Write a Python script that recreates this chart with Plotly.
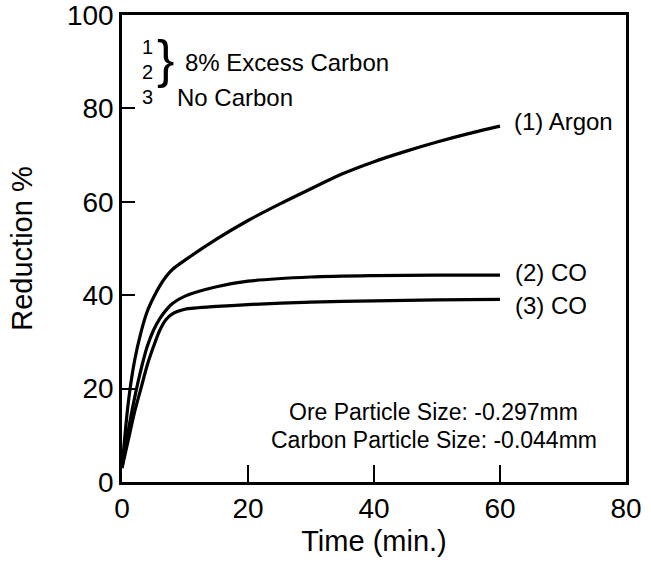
import plotly.graph_objects as go

# Reduction curves (time in minutes, reduction in %)
time_argon = [0, 1, 2, 3, 4, 5, 6, 7, 8, 10, 15, 20, 25, 30, 35, 40, 45, 50, 55, 60]
red_argon = [3, 17, 26, 32, 36.5, 39.5, 42, 44, 45.5, 47.5, 52, 56, 59.5, 62.8, 66, 68.6, 70.8, 72.8, 74.6, 76.2]

time_co2 = [0, 1, 2, 3, 4, 5, 6, 7, 8, 10, 15, 20, 30, 40, 50, 60]
red_co2 = [3, 11, 18, 24, 29, 32.5, 35, 36.8, 38.2, 39.8, 41.8, 43, 43.9, 44.2, 44.3, 44.3]

time_co3 = [0, 1, 2, 3, 4, 5, 6, 7, 8, 9, 10, 15, 20, 30, 40, 50, 60]
red_co3 = [3, 9, 15, 20, 25, 29, 32.5, 34.8, 36, 36.6, 37, 37.6, 38, 38.5, 38.8, 39, 39.1]

x_ticks = [0, 20, 40, 60, 80]
y_ticks = [0, 20, 40, 60, 80, 100]

FONT = "Liberation Sans, Arial, Helvetica, sans-serif"
BLACK = "#000000"

fig = go.Figure()
for xs, ys in [(time_argon, red_argon), (time_co2, red_co2), (time_co3, red_co3)]:
    fig.add_trace(go.Scatter(
        x=xs, y=ys, mode="lines",
        line=dict(color=BLACK, width=3.2, shape="spline", smoothing=0.8),
        showlegend=False, hoverinfo="skip",
    ))

ann = []
def label(x, y, text, size=24, xanchor="left"):
    ann.append(dict(x=x, y=y, xref="x", yref="y", text=text, showarrow=False,
                    xanchor=xanchor, yanchor="middle",
                    font=dict(family=FONT, size=size, color=BLACK)))

# curve labels
label(61.9, 77.1, "(1) Argon")
label(62.1, 44.8, "(2) CO")
label(62.1, 37.9, "(3) CO")

# key in the upper-left corner
label(4.0, 93.1, "1", size=20, xanchor="center")
label(4.0, 87.7, "2", size=20, xanchor="center")
label(4.0, 82.4, "3", size=20, xanchor="center")
label(6.9, 90.6, "}", size=52, xanchor="center")
label(9.7, 89.9, "8% Excess Carbon")
label(8.4, 82.4, "No Carbon")

# particle size notes
label(49.5, 14.9, "Ore Particle Size: -0.297mm", size=23, xanchor="center")
label(49.5, 9.1, "Carbon Particle Size: -0.044mm", size=23, xanchor="center")

axis_common = dict(
    showline=True, linecolor=BLACK, linewidth=2.5, mirror=True,
    showgrid=False, zeroline=False, automargin=False,
    ticks="inside", tickcolor=BLACK, tickwidth=2,
    ticklabeloverflow="allow",
    tickfont=dict(family=FONT, size=28, color=BLACK),
)

fig.update_layout(
    width=651, height=565,
    margin=dict(l=122, r=25, t=15, b=83),
    paper_bgcolor="white", plot_bgcolor="white",
    annotations=ann,
    xaxis=dict(range=[0, 80], tickvals=x_ticks, ticklen=17,
               title=dict(text="Time (min.)", font=dict(family=FONT, size=29, color=BLACK), standoff=8),
               **axis_common),
    yaxis=dict(range=[0, 100], tickvals=y_ticks, ticklen=13,
               title=dict(text="Reduction %", font=dict(family=FONT, size=29, color=BLACK), standoff=26),
               **axis_common),
)

fig.write_html("out.html")
